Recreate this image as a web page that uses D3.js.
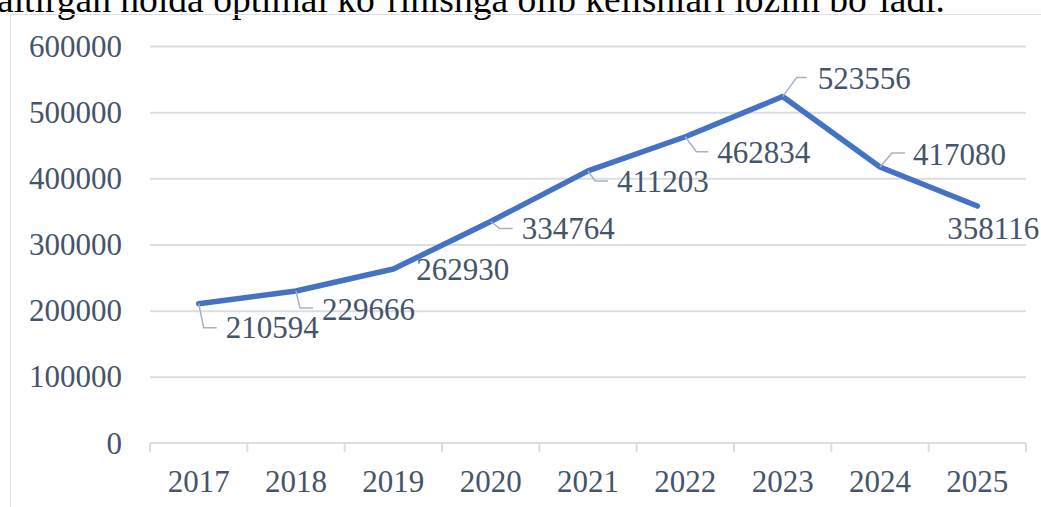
<!DOCTYPE html>
<html>
<head>
<meta charset="utf-8">
<script src="https://cdn.jsdelivr.net/npm/d3@7/dist/d3.min.js"></script>
<style>
  html, body { margin: 0; padding: 0; background: #fff; }
  svg text { font-family: "Liberation Serif", "Times New Roman", serif; }
</style>
</head>
<body>
<svg id="chart" width="1041" height="507"></svg>
<script>
// data
const years = ["2017", "2018", "2019", "2020", "2021", "2022", "2023", "2024", "2025"];
const values = [210594, 229666, 262930, 334764, 411203, 462834, 523556, 417080, 358116];
const yTicks = [0, 100000, 200000, 300000, 400000, 500000, 600000];

// where each data label sits, relative to its point (text dx/dy, leader elbow and end)
const labelLayout = [
  { dx: 27, dy: 34, lead: [[5, 24], [18, 24]] },
  { dx: 26, dy: 29, lead: [[4, 17], [17, 17]] },
  { dx: 23, dy: 11, lead: null },
  { dx: 31, dy: 18, lead: [[9, 7], [22, 7]] },
  { dx: 29, dy: 21, lead: [[7, 10], [20, 10]] },
  { dx: 32, dy: 26, lead: [[11, 15], [23, 15]] },
  { dx: 35, dy: -8, lead: [[14, -19], [24, -19]] },
  { dx: 33, dy: -2, lead: [[12, -14], [25, -14]] },
  { dx: -30, dy: 33, lead: null }
];

const textColor = "#44546A";
const gridColor = "#D9DEE5";
const lineColor = "#4472C4";

const svg = d3.select("#chart");

// bit of the paragraph above the figure, cut off at the top
svg.append("text")
  .attr("x", -3)
  .attr("y", 12)
  .attr("textLength", 948)
  .attr("lengthAdjust", "spacingAndGlyphs")
  .style("font-size", "37px")
  .style("fill", "#000")
  .text("aitirgan holda optimal ko\u2018rinishga olib kelishlari lozim bo\u2018ladi.");

// chart frame
svg.append("rect")
  .attr("x", 10.5)
  .attr("y", 14.5)
  .attr("width", 1100)
  .attr("height", 600)
  .attr("fill", "none")
  .attr("stroke", "#DCDFE4")
  .attr("stroke-width", 1);

const margin = { left: 150, right: 1026, top: 46, bottom: 443 };

const x = d3.scaleBand()
  .domain(years)
  .range([margin.left, margin.right]);

const y = d3.scaleLinear()
  .domain([0, 600000])
  .range([margin.bottom, margin.top]);

// gridlines
svg.append("g")
  .attr("transform", `translate(${margin.left},0)`)
  .call(d3.axisLeft(y).tickValues(yTicks.slice(1)).tickSize(-(margin.right - margin.left)).tickFormat(""))
  .call(g => g.select(".domain").remove())
  .call(g => g.selectAll("line").attr("stroke", gridColor).attr("stroke-width", 2));

// y labels
svg.append("g")
  .selectAll("text")
  .data(yTicks)
  .join("text")
  .attr("x", 122)
  .attr("y", d => y(d))
  .attr("dy", "0.34em")
  .attr("text-anchor", "end")
  .style("font-size", "31px")
  .style("fill", textColor)
  .text(d => d);

// x axis
const xAxis = svg.append("g")
  .attr("transform", `translate(0,${margin.bottom})`);

xAxis.append("line")
  .attr("x1", margin.left)
  .attr("x2", margin.right)
  .attr("stroke", gridColor)
  .attr("stroke-width", 2);

const bounds = years.map(d => x(d)).concat([margin.right]);
xAxis.selectAll(".tick-mark")
  .data(bounds)
  .join("line")
  .attr("class", "tick-mark")
  .attr("x1", d => d)
  .attr("x2", d => d)
  .attr("y1", 0)
  .attr("y2", 9)
  .attr("stroke", gridColor)
  .attr("stroke-width", 2);

xAxis.selectAll(".year")
  .data(years)
  .join("text")
  .attr("class", "year")
  .attr("x", d => x(d) + x.bandwidth() / 2)
  .attr("y", 49)
  .attr("text-anchor", "middle")
  .style("font-size", "31px")
  .style("fill", textColor)
  .text(d => d);

// the line
const pts = years.map((d, i) => ({ year: d, val: values[i], px: x(d) + x.bandwidth() / 2, py: y(values[i]) }));

svg.append("path")
  .datum(pts)
  .attr("fill", "none")
  .attr("stroke", lineColor)
  .attr("stroke-width", 5.5)
  .attr("stroke-linejoin", "round")
  .attr("stroke-linecap", "round")
  .attr("d", d3.line().x(d => d.px).y(d => d.py));

// leader lines
svg.append("g")
  .selectAll("path")
  .data(pts.filter((d, i) => labelLayout[i].lead))
  .join("path")
  .attr("fill", "none")
  .attr("stroke", "#A9B2BF")
  .attr("stroke-width", 1.5)
  .attr("d", d => {
    const l = labelLayout[years.indexOf(d.year)].lead;
    return `M${d.px},${d.py}L${d.px + l[0][0]},${d.py + l[0][1]}L${d.px + l[1][0]},${d.py + l[1][1]}`;
  });

// data labels
svg.append("g")
  .selectAll("text")
  .data(pts)
  .join("text")
  .attr("x", (d, i) => d.px + labelLayout[i].dx)
  .attr("y", (d, i) => d.py + labelLayout[i].dy)
  .style("font-size", "31px")
  .style("fill", textColor)
  .text(d => d.val);
</script>
</body>
</html>
